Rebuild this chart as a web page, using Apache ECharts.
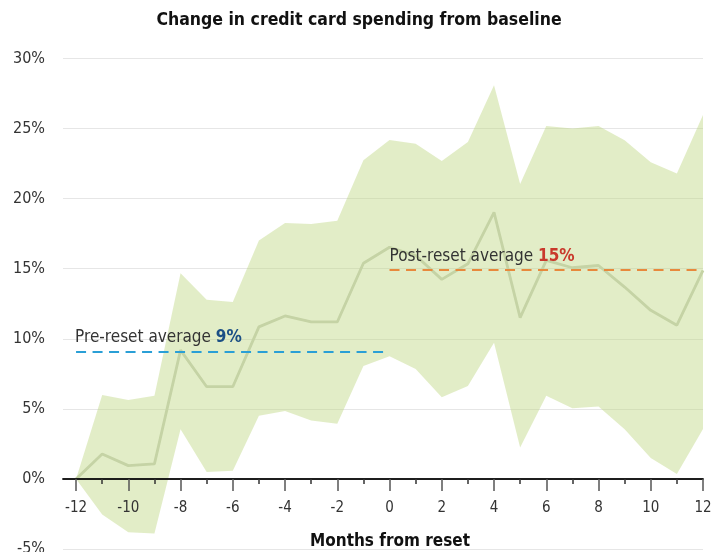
<!DOCTYPE html>
<html>
<head>
<meta charset="utf-8">
<script src="https://cdn.jsdelivr.net/npm/echarts@6/dist/echarts.min.js"></script>
<style>
  html, body { margin: 0; padding: 0; background: #fff; }
  #chart { width: 718px; height: 552px; }
</style>
</head>
<body>
<div id="chart"></div>
<script>
// months relative to the card reset
const months = [-12, -11, -10, -9, -8, -7, -6, -5, -4, -3, -2, -1, 0, 1, 2, 3, 4, 5, 6, 7, 8, 9, 10, 11, 12];
// average change in spending (%)
const meanChange = [0, 1.78, 0.95, 1.07, 9.19, 6.58, 6.58, 10.85, 11.63, 11.2, 11.2, 15.39, 16.53, 15.94, 14.24, 15.35, 19.02, 11.51, 15.59, 15.07, 15.23, 13.69, 12.03, 10.97, 14.88];
// confidence band (%)
const lowerBound = [0, -2.54, -3.8, -3.89, 3.55, 0.5, 0.59, 4.5, 4.85, 4.17, 3.93, 8.05, 8.76, 7.84, 5.83, 6.63, 9.71, 2.25, 5.94, 5.04, 5.16, 3.55, 1.49, 0.36, 3.57];
const upperBound = [0, 5.99, 5.64, 5.94, 14.68, 12.79, 12.62, 17.01, 18.27, 18.19, 18.43, 22.74, 24.19, 23.92, 22.69, 24.04, 28.1, 21.04, 25.18, 25.0, 25.18, 24.16, 22.6, 21.8, 25.96];
const preResetAvg = 9.1;
const postResetAvg = 14.9;
const xMajorTicks = [-12, -10, -8, -6, -4, -2, 0, 2, 4, 6, 8, 10, 12];
const xMinorTicks = [-11, -9, -7, -5, -3, -1, 1, 3, 5, 7, 9, 11];

const FONT = "'DejaVu Sans Condensed', 'Liberation Sans Narrow', sans-serif";
const Y_MIN = -5, Y_MAX = 30;
const GRID_TOP = 58.5, GRID_BOTTOM = 3, CHART_H = 552;
// lift the x axis from the grid bottom up to the 0% line
const zeroOffset = -(CHART_H - GRID_TOP - GRID_BOTTOM) * (0 - Y_MIN) / (Y_MAX - Y_MIN);

const chart = echarts.init(document.getElementById('chart'));

chart.setOption({
  animation: false,
  title: {
    text: 'Change in credit card spending from baseline',
    left: 'center',
    top: 6,
    textStyle: { fontFamily: FONT, fontSize: 17.5, fontWeight: 'bold', color: '#111' }
  },
  graphic: [
    {
      type: 'text',
      x: 390,
      y: 542,
      style: {
        text: 'Months from reset',
        textAlign: 'center',
        textVerticalAlign: 'middle',
        fontFamily: FONT,
        fontSize: 17,
        fontWeight: 'bold',
        fill: '#111'
      }
    }
  ],
  grid: {
    left: 63,
    right: 15,
    top: GRID_TOP,
    bottom: GRID_BOTTOM,
    outerBoundsMode: 'none'
  },
  xAxis: [
    {
      type: 'value',
      position: 'bottom',
      offset: zeroOffset,
      z: 5,
      min: -12.5,
      max: 12,
      axisLine: { onZero: false, lineStyle: { color: '#111', width: 1.5 } },
      axisTick: { customValues: xMajorTicks, length: 12, lineStyle: { color: '#555', width: 1.5 } },
      axisLabel: {
        customValues: xMajorTicks,
        margin: 22,
        fontFamily: FONT,
        fontSize: 15,
        color: '#333'
      },
      splitLine: { show: false }
    },
    {
      type: 'value',
      position: 'bottom',
      offset: zeroOffset,
      z: 5,
      min: -12.5,
      max: 12,
      axisLine: { onZero: false, lineStyle: { color: '#111', width: 1.5 } },
      axisTick: { customValues: xMinorTicks, length: 5, lineStyle: { color: '#333', width: 1.5 } },
      axisLabel: { show: false },
      splitLine: { show: false }
    }
  ],
  yAxis: {
    type: 'value',
    min: Y_MIN,
    max: Y_MAX,
    interval: 5,
    axisLine: { show: false },
    axisTick: { show: false },
    axisLabel: {
      formatter: '{value}%',
      margin: 18,
      fontFamily: FONT,
      fontSize: 16,
      color: '#333'
    },
    splitLine: { lineStyle: { color: '#e6e6e6', width: 1 } }
  },
  series: [
    {
      type: 'custom',
      silent: true,
      z: 1,
      data: [[0, 0]],
      renderItem: (params, api) => {
        const pts = months.map((m, i) => api.coord([m, upperBound[i]]));
        for (let i = months.length - 1; i >= 0; i--) {
          pts.push(api.coord([months[i], lowerBound[i]]));
        }
        return {
          type: 'polygon',
          shape: { points: pts },
          style: { fill: 'rgba(191,215,131,0.45)' }
        };
      }
    },
    {
      type: 'line',
      z: 2,
      symbol: 'none',
      data: months.map((m, i) => [m, meanChange[i]]),
      lineStyle: { color: '#c5d3a5', width: 2.8 },
      markLine: {
        silent: true,
        symbol: 'none',
        data: [
          [
            {
              coord: [-12, preResetAvg],
              lineStyle: { color: '#2a9fd6', width: 2, type: [10, 6.5] },
              label: {
                show: true,
                position: 'insideStartTop',
                distance: 5,
                offset: [-6, 0],
                formatter: '{a|Pre-reset average }{b|9%}',
                rich: {
                  a: { fontFamily: FONT, fontSize: 17, color: '#333' },
                  b: { fontFamily: FONT, fontSize: 17, fontWeight: 'bold', color: '#1b4f85' }
                }
              }
            },
            { coord: [0, preResetAvg] }
          ],
          [
            {
              coord: [0, postResetAvg],
              lineStyle: { color: '#e8893c', width: 2, type: [10, 6.5] },
              label: {
                show: true,
                position: 'insideStartTop',
                distance: 5,
                offset: [-5, 0],
                formatter: '{a|Post-reset average }{b|15%}',
                rich: {
                  a: { fontFamily: FONT, fontSize: 17, color: '#333' },
                  b: { fontFamily: FONT, fontSize: 17, fontWeight: 'bold', color: '#c9392c' }
                }
              }
            },
            { coord: [12, postResetAvg] }
          ]
        ]
      }
    }
  ]
});
</script>
</body>
</html>
